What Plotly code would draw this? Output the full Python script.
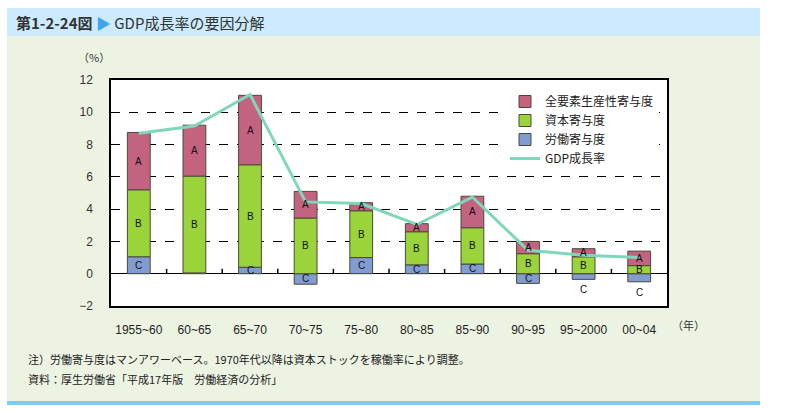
import plotly.graph_objects as go

categories = ["1955~60", "60~65", "65~70", "70~75", "75~80", "80~85", "85~90", "90~95", "95~2000", "00~04"]
tfp = [3.55, 3.15, 4.3, 1.65, 0.5, 0.5, 1.95, 0.76, 0.5, 0.9]      # 全要素生産性寄与度 (A)
capital = [4.15, 6.0, 6.35, 3.45, 2.9, 2.05, 2.25, 1.24, 1.05, 0.5]  # 資本寄与度 (B)
labor = [1.05, 0.05, 0.4, -0.65, 1.0, 0.55, 0.6, -0.6, -0.35, -0.5]  # 労働寄与度 (C)
gdp = [8.7, 9.15, 11.1, 4.45, 4.35, 3.05, 4.75, 1.45, 1.15, 1.0]     # GDP成長率
yticks = [-2, 0, 2, 4, 6, 8, 10, 12]

L, R, T, B = 111, 667, 80, 306
W, H = 785, 409
pw, ph = R - L, B - T

def px(x):
    return (x - L) / pw

def py(y):
    return (B - y) / ph

col_a = "#C4637F"
col_b = "#9BD33A"
col_c = "#809CD0"
col_line = "#80D6BC"
edge = dict(color="#4a4a3a", width=1)
font_cjk = "Noto Sans CJK JP"
tf = dict(size=10, color="#111", family="Liberation Sans")

fig = go.Figure()
fig.add_trace(go.Bar(x=categories, y=labor, name="労働寄与度", marker=dict(color=col_c, line=edge),
                     legendrank=3))
fig.add_trace(go.Bar(x=categories, y=capital, name="資本寄与度", marker=dict(color=col_b, line=edge),
                     legendrank=2))
fig.add_trace(go.Bar(x=categories, y=tfp, name="全要素生産性寄与度", marker=dict(color=col_a, line=edge),
                     legendrank=1))
fig.add_trace(go.Scatter(x=categories, y=gdp, name="GDP成長率", mode="lines",
                         line=dict(color=col_line, width=3), legendrank=4))

# segment labels A / B / C, placed at each segment's midpoint
annotations = []
for i, cat in enumerate(categories):
    c, b, a = labor[i], capital[i], tfp[i]
    pos_base = max(c, 0)
    if c >= 0.3 or c <= -0.55:
        annotations.append(dict(x=cat, y=c / 2, text="C", yanchor="middle"))
    elif c < 0:
        annotations.append(dict(x=cat, y=c, text="C", yanchor="top", yshift=-3))
    annotations.append(dict(x=cat, y=pos_base + b / 2, text="B", yanchor="middle"))
    annotations.append(dict(x=cat, y=pos_base + b + a / 2, text="A", yanchor="middle"))
for an in annotations:
    an.update(xref="x", yref="y", showarrow=False, font=tf)

annotations += [
    dict(x=px(14), y=py(22), xref="paper", yref="paper", xanchor="left", yanchor="middle", showarrow=False,
         text="<b>第1-2-24図</b> <span style='color:#3EA6EE'>▶</span> GDP成長率の要因分解",
         font=dict(size=15, color="#333", family=font_cjk)),
    dict(x=px(112), y=py(57), xref="paper", yref="paper", xanchor="right", yanchor="middle", showarrow=False,
         text="（%）", font=dict(size=11, color="#333", family=font_cjk)),
    dict(x=px(670), y=py(325), xref="paper", yref="paper", xanchor="left", yanchor="middle", showarrow=False,
         text="（年）", font=dict(size=11, color="#333", family=font_cjk)),
    dict(x=px(26), y=py(359), xref="paper", yref="paper", xanchor="left", yanchor="middle", showarrow=False,
         text="注）労働寄与度はマンアワーベース。1970年代以降は資本ストックを稼働率により調整。",
         font=dict(size=11, color="#222", family=font_cjk)),
    dict(x=px(26), y=py(379), xref="paper", yref="paper", xanchor="left", yanchor="middle", showarrow=False,
         text="資料：厚生労働省「平成17年版　労働経済の分析」",
         font=dict(size=11, color="#222", family=font_cjk)),
]

shapes = [
    dict(type="rect", xref="paper", yref="paper", x0=px(7), x1=px(760), y0=py(36), y1=py(401),
         fillcolor="#EDF3E3", line=dict(width=0), layer="below"),
    dict(type="rect", xref="paper", yref="paper", x0=px(7), x1=px(760), y0=py(8), y1=py(36),
         fillcolor="#CCEBFE", line=dict(width=0), layer="below"),
    dict(type="rect", xref="paper", yref="paper", x0=px(7), x1=px(760), y0=py(401), y1=py(405),
         fillcolor="#7FCCF2", line=dict(width=0), layer="below"),
    dict(type="rect", xref="paper", yref="paper", x0=0, x1=1, y0=0, y1=1,
         fillcolor="white", line=dict(width=0), layer="below"),
]
# small category-boundary tick marks standing on the zero line
n = len(categories)
for k in range(n - 1):
    shapes.append(dict(type="line", xref="x", yref="y", x0=k + 0.5, x1=k + 0.5,
                       y0=0, y1=0.3, line=dict(color="black", width=1.5), layer="above"))

fig.update_layout(
    width=W, height=H,
    margin=dict(l=L, r=W - R, t=T, b=H - B, pad=0, autoexpand=False),
    paper_bgcolor="white", plot_bgcolor="rgba(0,0,0,0)",
    barmode="relative", bargap=0.59,
    showlegend=True,
    legend=dict(x=px(505), y=py(87), xanchor="left", yanchor="top", bgcolor="white",
                font=dict(size=12, color="#222", family=font_cjk), tracegroupgap=0,
                itemwidth=30),
    font=dict(family=font_cjk, color="#333"),
    xaxis=dict(type="category", categoryorder="array", categoryarray=categories,
               showline=True, linecolor="black", linewidth=1.5, mirror=True, ticks="",
               tickfont=dict(size=12, color="#222", family="Liberation Sans"),
               showgrid=False, zeroline=False, ticklabelstandoff=12, automargin=False),
    yaxis=dict(range=[-2, 12], tickvals=yticks, showline=True, linecolor="black", linewidth=1.5,
               mirror=True, ticks="", showgrid=True, gridcolor="black", griddash="dash", gridwidth=1,
               zeroline=True, zerolinecolor="black", zerolinewidth=1, automargin=False,
               tickfont=dict(size=12, color="#333", family="Liberation Sans"), ticklabelstandoff=14),
    annotations=annotations,
    shapes=shapes,
)

fig.write_html("out.html", post_script="document.body.style.margin='0px';",
               config={"displayModeBar": False})
